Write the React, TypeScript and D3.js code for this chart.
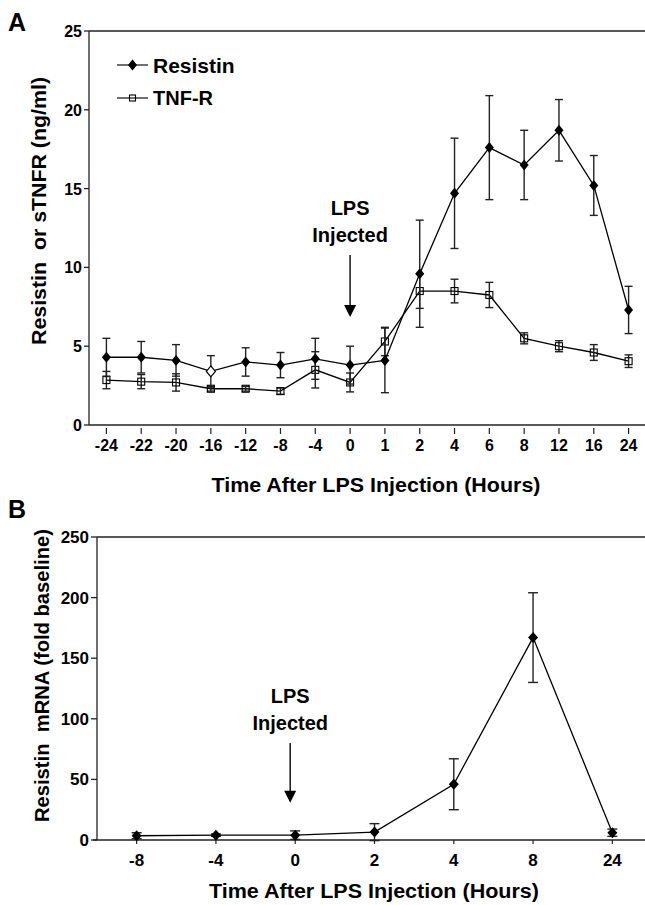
import { useEffect, useRef } from 'react';
import * as d3 from 'd3';

const W = 645;
const H = 905;
const FONT = '"Liberation Sans", Arial, Helvetica, sans-serif';

// panel A: serum resistin and soluble TNF receptor
const hoursA = ['-24', '-22', '-20', '-16', '-12', '-8', '-4', '0', '1', '2', '4', '6', '8', '12', '16', '24'];
const resistinA = [4.3, 4.3, 4.1, 3.4, 4.0, 3.8, 4.2, 3.8, 4.1, 9.6, 14.7, 17.6, 16.5, 18.7, 15.2, 7.3];
const resistinAErr = [1.2, 1.0, 1.0, 1.0, 0.9, 0.8, 1.3, 1.2, 2.05, 3.4, 3.5, 3.3, 2.2, 1.95, 1.9, 1.5];
// the -16 h resistin marker is drawn hollow in the original
const resistinAHollow = ['-16'];
const tnfA = [2.85, 2.75, 2.7, 2.3, 2.3, 2.15, 3.5, 2.7, 5.3, 8.5, 8.5, 8.25, 5.5, 5.0, 4.6, 4.05];
const tnfAErr = [0.55, 0.45, 0.55, 0.15, 0.15, 0.2, 1.15, 0.6, 0.9, 1.1, 0.75, 0.8, 0.35, 0.35, 0.5, 0.4];
const ticksA = [0, 5, 10, 15, 20, 25];

// panel B: resistin mRNA
const hoursB = ['-8', '-4', '0', '2', '4', '8', '24'];
const mrnaB = [3.5, 4, 4, 6.5, 46, 167, 6];
const mrnaBErr = [2.5, 1, 3.5, 7, 21, 37, 3];
const ticksB = [0, 50, 100, 150, 200, 250];

const XTITLE = 'Time After LPS Injection (Hours)';

type Sel = d3.Selection<SVGGElement, unknown, null, undefined>;

function diamond(g: Sel, x: number, y: number, hw: number, hh: number, hollow = false) {
  g.append('path')
    .attr('d', `M${x},${y - hh}L${x + hw},${y}L${x},${y + hh}L${x - hw},${y}Z`)
    .attr('fill', hollow ? '#fff' : '#000')
    .attr('stroke', '#000')
    .attr('stroke-width', hollow ? 1.2 : 0);
}

function square(g: Sel, x: number, y: number, s: number) {
  g.append('rect')
    .attr('x', x - s / 2).attr('y', y - s / 2)
    .attr('width', s).attr('height', s)
    .attr('fill', 'none').attr('stroke', '#000').attr('stroke-width', 1.1);
}

function text(g: Sel, x: number, y: number, s: string, size: number, anchor = 'start') {
  return g.append('text')
    .attr('x', x).attr('y', y)
    .attr('font-family', FONT).attr('font-weight', 'bold')
    .attr('font-size', size).attr('text-anchor', anchor)
    .attr('fill', '#000')
    .text(s);
}

function hline(g: Sel, x1: number, x2: number, y: number, w = 1.3) {
  g.append('line').attr('x1', x1).attr('x2', x2).attr('y1', y).attr('y2', y)
    .attr('stroke', '#222').attr('stroke-width', w);
}

function vline(g: Sel, x: number, y1: number, y2: number, w = 1.3) {
  g.append('line').attr('x1', x).attr('x2', x).attr('y1', y1).attr('y2', y2)
    .attr('stroke', '#222').attr('stroke-width', w);
}

function series(
  g: Sel,
  cx: (i: number) => number,
  y: d3.ScaleLinear<number, number>,
  values: number[],
  errs: number[],
  cap: number,
  marker: (x: number, y: number, i: number) => void,
) {
  const line = d3.line<number>().x((_, i) => cx(i)).y((d) => y(d));
  g.append('path').attr('d', line(values) ?? '')
    .attr('fill', 'none').attr('stroke', '#000').attr('stroke-width', 1.3);
  values.forEach((v, i) => {
    const x = cx(i);
    const lo = y(v - errs[i]);
    const hi = y(v + errs[i]);
    vline(g, x, lo, hi, 1.4);
    hline(g, x - cap / 2, x + cap / 2, lo, 1.4);
    hline(g, x - cap / 2, x + cap / 2, hi, 1.4);
  });
  values.forEach((v, i) => marker(cx(i), y(v), i));
}

function lpsArrow(g: Sel, x: number, yLps: number, yInj: number, yTop: number, yTip: number) {
  text(g, x, yLps, 'LPS', 20, 'middle');
  text(g, x, yInj, 'Injected', 20, 'middle');
  vline(g, x, yTop, yTip - 10, 1.6);
  g.append('path')
    .attr('d', `M${x - 6},${yTip - 12}L${x + 6},${yTip - 12}L${x},${yTip}Z`)
    .attr('fill', '#000');
}

export default function App() {
  const svgRef = useRef<SVGSVGElement>(null);

  useEffect(() => {
    const svg = d3.select(svgRef.current);
    if (!svg.node()) return;
    svg.selectAll('*').remove();

    // ---------- panel A ----------
    const a = svg.append('g') as unknown as Sel;
    const leftA = 89;
    const xA = d3.scaleBand<string>().domain(hoursA).range([leftA, 646]);
    const yA = d3.scaleLinear().domain([0, 25]).range([425, 31]);
    const cxA = (i: number) => (xA(hoursA[i]) ?? 0) + xA.bandwidth() / 2;

    text(a, 8, 31, 'A', 25);
    hline(a, leftA, W, yA(25));
    hline(a, leftA, W, yA(0));
    vline(a, leftA, yA(0), yA(25));
    ticksA.forEach((t) => {
      hline(a, leftA - 5, leftA, yA(t));
      text(a, 82, yA(t) + 6, String(t), 16, 'end');
    });
    hoursA.forEach((h, i) => {
      vline(a, cxA(i), yA(0) + 3, yA(0) + 9, 1.2);
      text(a, cxA(i), 451, h, 16, 'middle');
    });
    text(a, 376, 492, XTITLE, 20, 'middle').attr('textLength', 329).attr('lengthAdjust', 'spacingAndGlyphs');
    text(a, 0, 0, 'Resistin  or sTNFR (ng/ml)', 20, 'middle')
      .attr('transform', `translate(46,${(77 + 345) / 2}) rotate(-90)`)
      .attr('textLength', 268).attr('lengthAdjust', 'spacingAndGlyphs')
      .style('white-space', 'pre');

    series(a, cxA, yA, tnfA, tnfAErr, 8, (x, y) => square(a, x, y, 7));
    series(a, cxA, yA, resistinA, resistinAErr, 8, (x, y, i) =>
      diamond(a, x, y, 4.5, 5.5, resistinAHollow.includes(hoursA[i])));

    // legend
    hline(a, 117, 148, 65, 1.3);
    diamond(a, 132.5, 65, 4.5, 5.5);
    text(a, 153, 72.5, 'Resistin', 21);
    hline(a, 117, 148, 98, 1.3);
    square(a, 132.5, 98, 6);
    text(a, 153, 105, 'TNF-R', 20);

    lpsArrow(a, cxA(hoursA.indexOf('0')), 215, 242, 255, 317);

    // ---------- panel B ----------
    const b = svg.append('g') as unknown as Sel;
    const leftB = 97;
    const xB = d3.scaleBand<string>().domain(hoursB).range([leftB, 652]);
    const yB = d3.scaleLinear().domain([0, 250]).range([840, 537]);
    const cxB = (i: number) => (xB(hoursB[i]) ?? 0) + xB.bandwidth() / 2;

    text(b, 8, 518, 'B', 25);
    hline(b, leftB, W, yB(250));
    hline(b, leftB - 4, W, yB(0));
    vline(b, leftB, yB(0), yB(250));
    ticksB.forEach((t) => {
      hline(b, leftB - 6, leftB, yB(t));
      text(b, 89, yB(t) + 6, String(t), 17, 'end');
    });
    hoursB.forEach((h, i) => {
      vline(b, cxB(i), yB(0), yB(0) + 4, 1.2);
      text(b, cxB(i), 866, h, 17, 'middle');
    });
    text(b, 374, 898, XTITLE, 20, 'middle').attr('textLength', 330).attr('lengthAdjust', 'spacingAndGlyphs');
    text(b, 0, 0, 'Resistin  mRNA (fold baseline)', 20, 'middle')
      .attr('transform', `translate(49,${529 + 293 / 2}) rotate(-90)`)
      .attr('textLength', 293).attr('lengthAdjust', 'spacingAndGlyphs')
      .style('white-space', 'pre');

    series(b, cxB, yB, mrnaB, mrnaBErr, 10, (x, y) => diamond(b, x, y, 5, 5.5));

    lpsArrow(b, cxB(hoursB.indexOf('0')) - 5, yB(113), yB(91), yB(80), yB(30.7));
  }, []);

  return (
    <svg
      ref={svgRef}
      width={W}
      height={H}
      style={{ position: 'absolute', left: 0, top: 0, background: '#fff' }}
    />
  );
}
